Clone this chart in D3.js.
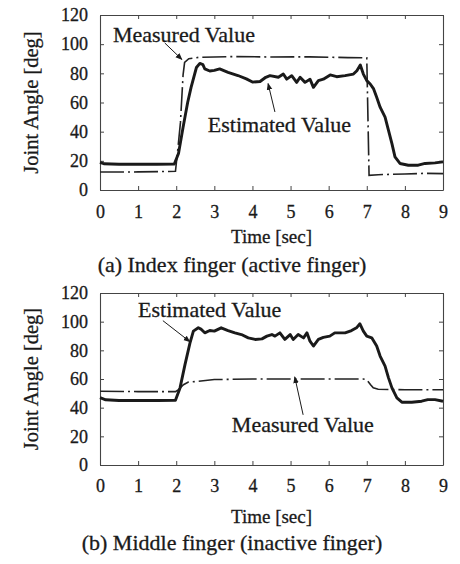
<!DOCTYPE html>
<html>
<head>
    <title>Joint Angle</title>
    <script src="https://cdn.jsdelivr.net/npm/d3@7/dist/d3.min.js"></script>
</head>
<body style="margin:0">
<script>
    // (a) index finger
    var idxMeasT = [0, 1.0, 1.98, 2.05, 2.11, 2.18, 2.22, 2.33, 2.6, 3.5, 4.5, 5.5, 6.5, 7.0, 7.06, 7.3, 8.0, 8.5, 9.0];
    var idxMeasV = [12.3, 12.4, 12.8, 30, 46, 79, 87.5, 90, 91, 91.5, 91.2, 91.3, 90.8, 90.6, 10, 10.5, 11, 11.4, 11.2];
    var idxEstT = [0, 0.1, 0.5, 1.0, 1.5, 1.95, 2.06, 2.18, 2.3, 2.39, 2.53, 2.62, 2.7, 2.75, 2.88, 3.0, 3.14, 3.36, 3.62, 3.84, 4.0, 4.2, 4.35, 4.46, 4.68, 4.81, 4.9, 5.03, 5.16, 5.25, 5.38, 5.51, 5.6, 5.73, 5.86, 6.04, 6.21, 6.43, 6.65, 6.74, 6.83, 6.91, 7.0, 7.09, 7.18, 7.26, 7.35, 7.48, 7.57, 7.66, 7.74, 7.87, 8.09, 8.35, 8.53, 8.79, 9.0];
    var idxEstV = [19, 18, 17.7, 17.7, 17.7, 17.8, 25, 43, 60, 70.4, 84, 86.8, 86, 83, 81.6, 82, 83, 80.7, 78.5, 76.2, 74, 74.4, 77.3, 78.4, 77.3, 79.5, 76, 78.4, 73.8, 77.3, 73.8, 76, 70.4, 75, 76, 78.9, 77.7, 78.4, 79.5, 81.8, 85.7, 79.5, 75, 72.7, 69.3, 63.6, 56.8, 50, 40.9, 31.8, 22.7, 18.2, 17, 17, 18.2, 18.6, 19.3];

    // (b) middle finger
    var midMeasT = [0, 1.0, 1.98, 2.06, 2.19, 2.32, 2.5, 3.0, 4.0, 5.0, 6.0, 6.9, 7.0, 7.1, 7.17, 7.3, 8.0, 9.0];
    var midMeasV = [51.5, 51.2, 51.2, 52.6, 56, 57.8, 58.2, 59.6, 60, 60, 60, 60, 59.5, 56, 53.8, 52.8, 52.5, 52.5];
    var midEstT = [0, 0.15, 0.5, 1.0, 1.5, 1.98, 2.1, 2.23, 2.36, 2.45, 2.58, 2.66, 2.75, 2.88, 3.0, 3.18, 3.36, 3.54, 3.71, 3.89, 4.07, 4.25, 4.38, 4.51, 4.59, 4.72, 4.85, 4.99, 5.07, 5.2, 5.34, 5.43, 5.51, 5.6, 5.73, 5.86, 6.03, 6.16, 6.43, 6.6, 6.73, 6.82, 6.91, 7.0, 7.13, 7.26, 7.35, 7.48, 7.57, 7.66, 7.79, 7.92, 8.18, 8.44, 8.6, 8.79, 9.0];
    var midEstV = [47, 45.5, 45, 45, 45, 45.2, 53.8, 70, 85, 93.4, 95.7, 94.6, 92.2, 93.8, 93.4, 95.7, 93.8, 92.2, 91, 88.7, 87.6, 88, 89.9, 91, 89.9, 92.2, 87.6, 91, 87.6, 91, 88.7, 92.2, 86.4, 83, 87.6, 89, 89.9, 92.2, 92.2, 93.8, 95.7, 98.5, 93.4, 89.9, 88.7, 83, 76, 69, 60.8, 53.8, 46.8, 43.8, 43.8, 44.5, 45.6, 45.6, 44.5];

    var xTicks = [0, 1, 2, 3, 4, 5, 6, 7, 8, 9];
    var yTicks = [0, 20, 40, 60, 80, 100, 120];
    var captions = ["(a) Index finger (active finger)", "(b) Middle finger (inactive finger)"];

    var width = 460, height = 564;
    var svg = d3.select("body").append("svg")
        .attr("width", width)
        .attr("height", height);

    svg.append("defs").append("marker")
        .attr("id", "arr")
        .attr("viewBox", "0 0 10 10")
        .attr("refX", 9).attr("refY", 5)
        .attr("markerWidth", 7).attr("markerHeight", 7)
        .attr("markerUnits", "userSpaceOnUse")
        .attr("orient", "auto")
        .append("path")
        .attr("d", "M0,1 L10,5 L0,9 z")
        .attr("fill", "#1a1a1a");

    function zip(a, b) { return a.map(function(d, i) { return [d, b[i]]; }); }

    // scanned print looks a bit heavy, so a thin outline on the glyphs
    function serif(sel, size) {
        return sel.style("font-family", "'Liberation Serif'")
            .style("font-size", size + "px")
            .style("fill", "#1a1a1a")
            .style("stroke", "#1a1a1a")
            .style("stroke-width", 0.3);
    }

    function panel(p) {
        var x = d3.scaleLinear().domain([0, 9]).range([100, 443]);
        var y = d3.scaleLinear().domain([0, 120]).range([p.bottom, p.top]);
        var g = svg.append("g");

        g.append("g").attr("transform", "translate(0," + p.bottom + ")")
            .call(d3.axisBottom(x).tickValues(xTicks).tickSize(-4).tickSizeOuter(0).tickPadding(p.xPad).tickFormat(d3.format("d")));
        g.append("g").attr("transform", "translate(100,0)")
            .call(d3.axisLeft(y).tickValues(yTicks).tickSize(-4).tickSizeOuter(0).tickPadding(12));
        g.append("g").attr("transform", "translate(0," + p.top + ")")
            .call(d3.axisTop(x).tickValues(xTicks).tickSize(-4).tickSizeOuter(0).tickFormat(""));
        g.append("g").attr("transform", "translate(443,0)")
            .call(d3.axisRight(y).tickValues(yTicks).tickSize(-4).tickSizeOuter(0).tickFormat(""));
        g.selectAll(".domain").attr("stroke", "#444").attr("stroke-width", 1.1);
        g.selectAll(".tick line").attr("stroke", "#444");
        serif(g.selectAll(".tick text"), 18);

        var line = d3.line().x(function(d) { return x(d[0]); }).y(function(d) { return y(d[1]); });

        g.append("path").datum(zip(p.measT, p.measV))
            .attr("d", line).attr("fill", "none")
            .attr("stroke", "#222").attr("stroke-width", 1.6)
            .attr("stroke-dasharray", "24,4,2,4");
        g.append("path").datum(zip(p.estT, p.estV))
            .attr("d", line).attr("fill", "none")
            .attr("stroke", "#1a1a1a").attr("stroke-width", 2.9)
            .attr("stroke-linejoin", "round");

        p.notes.forEach(function(n) {
            serif(g.append("text").attr("x", x(n.tx)).attr("y", y(n.ty)), 22).text(n.label);
            g.append("line")
                .attr("x1", x(n.from[0])).attr("y1", y(n.from[1]))
                .attr("x2", x(n.to[0])).attr("y2", y(n.to[1]))
                .attr("stroke", "#1a1a1a").attr("stroke-width", 1)
                .attr("marker-end", "url(#arr)");
        });

        serif(g.append("text").attr("x", 271.5).attr("y", p.bottom + p.titleOff)
            .attr("text-anchor", "middle"), 19).text("Time [sec]");
        serif(g.append("text")
            .attr("transform", "translate(38," + ((p.top + p.bottom) / 2) + ") rotate(-90)")
            .attr("text-anchor", "middle"), 20.5).text("Joint Angle [deg]");
        serif(g.append("text").attr("x", 232).attr("y", p.bottom + p.capOff)
            .attr("text-anchor", "middle"), 22).text(p.caption);
    }

    panel({
        top: 15, bottom: 190, xPad: 15, titleOff: 53, capOff: 82,
        measT: idxMeasT, measV: idxMeasV, estT: idxEstT, estV: idxEstV,
        caption: captions[0],
        notes: [
            { label: "Measured Value", tx: 0.34, ty: 101.7, from: [1.7, 100.8], to: [2.15, 89.5] },
            { label: "Estimated Value", tx: 2.83, ty: 40, from: [4.59, 53.5], to: [4.41, 73] }
        ]
    });

    panel({
        top: 293, bottom: 465, xPad: 14, titleOff: 58, capOff: 85,
        measT: midMeasT, measV: midMeasV, estT: midEstT, estV: midEstV,
        caption: captions[1],
        notes: [
            { label: "Estimated Value", tx: 1.0, ty: 103.5, from: [1.65, 100.7], to: [2.36, 86] },
            { label: "Measured Value", tx: 3.46, ty: 23.2, from: [5.33, 35], to: [5.11, 61.5] }
        ]
    });
</script>
</body>
</html>
